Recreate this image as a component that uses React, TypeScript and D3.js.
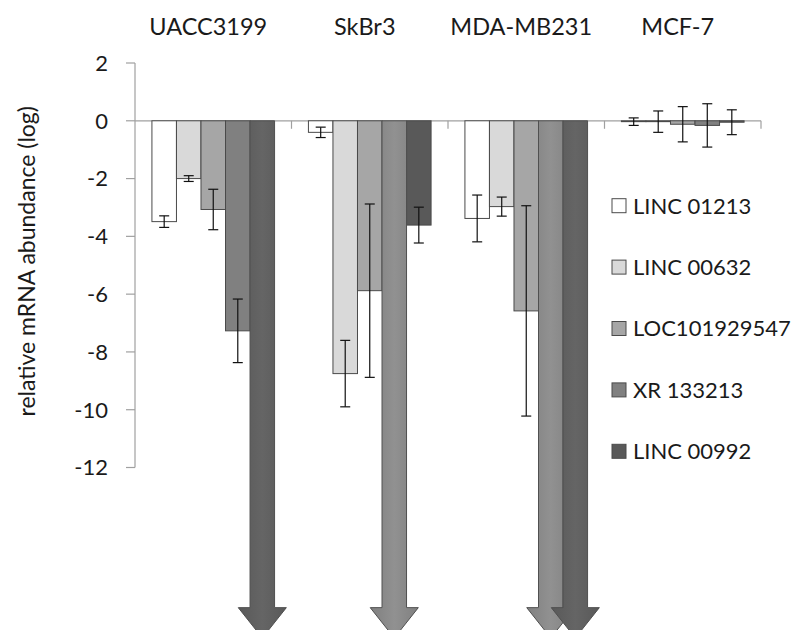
import * as d3 from "d3";

// cell lines and transcripts
const cells = ["UACC3199", "SkBr3", "MDA-MB231", "MCF-7"];
const series = ["LINC 01213", "LINC 00632", "LOC101929547", "XR 133213", "LINC 00992"];
const colors = ["#ffffff", "#d9d9d9", "#a6a6a6", "#808080", "#595959"];

// values per series, one per cell line (null = off scale, drawn as arrow)
const values: (number | null)[][] = [
  [-3.49, -0.4, -3.38, -0.03],
  [-2.0, -8.75, -2.97, -0.03],
  [-3.07, -5.88, -6.58, -0.12],
  [-7.27, null, null, -0.16],
  [null, -3.61, null, -0.05],
];
const errors: (number | null)[][] = [
  [0.2, 0.18, 0.81, 0.13],
  [0.1, 1.15, 0.33, 0.37],
  [0.7, 3.0, 3.64, 0.61],
  [1.1, null, null, 0.75],
  [null, 0.62, null, 0.43],
];
const yTicks = [2, 0, -2, -4, -6, -8, -10, -12];
const ARROW_HEAD = -16.85;
const ARROW_TIP = -17.9;

const W = 801;
const H = 630;
const FONT = "Lato, sans-serif";

export default function App() {
  const x0 = d3.scaleBand<string>().domain(cells).range([135, 761]).padding(0);
  const x1 = d3
    .scaleBand<string>()
    .domain(series)
    .range([0, x0.bandwidth()])
    .paddingInner(0)
    .paddingOuter(0.69);
  const y = d3.scaleLinear().domain([-12, 2]).range([467.5, 63]);
  const y0 = y(0);
  const axisColor = "#a0a0a0";

  const bars: JSX.Element[] = [];
  const arrows: JSX.Element[] = [];
  const errs: JSX.Element[] = [];

  series.forEach((s, si) => {
    cells.forEach((c, ci) => {
      const left = x0(c)! + x1(s)!;
      const bw = x1.bandwidth();
      const cx = left + bw / 2;
      const v = values[si][ci];
      if (v === null) {
        const hs = y(ARROW_HEAD);
        const tip = y(ARROW_TIP);
        const hw = bw * 0.98;
        const p = d3.path();
        p.moveTo(left, y0);
        p.lineTo(left + bw, y0);
        p.lineTo(left + bw, hs);
        p.lineTo(cx + hw, hs);
        p.lineTo(cx, tip);
        p.lineTo(cx - hw, hs);
        p.lineTo(left, hs);
        p.closePath();
        arrows.push(
          <path
            key={`a-${si}-${ci}`}
            d={p.toString()}
            fill={`url(#grad${si})`}
            stroke="#505050"
            strokeWidth={1}
          />,
        );
        return;
      }
      const top = Math.min(y(v), y0);
      const h = Math.abs(y(v) - y0);
      bars.push(
        <rect
          key={`b-${si}-${ci}`}
          x={left}
          y={top}
          width={bw}
          height={h}
          fill={colors[si]}
          stroke="#4a4a4a"
          strokeWidth={1}
        />,
      );
      const e = errors[si][ci];
      if (e !== null) {
        const ya = y(v + e);
        const yb = y(v - e);
        errs.push(
          <g key={`e-${si}-${ci}`} stroke="#111" strokeWidth={1.2}>
            <line x1={cx} x2={cx} y1={ya} y2={yb} />
            <line x1={cx - 5} x2={cx + 5} y1={ya} y2={ya} />
            <line x1={cx - 5} x2={cx + 5} y1={yb} y2={yb} />
          </g>,
        );
      }
    });
  });

  const legendY = d3.scaleBand<string>().domain(series).range([175, 482]);

  return (
    <svg
      width={W}
      height={H}
      style={{position: "absolute", left: 0, top: 0, background: "#fff"}}
      fontFamily={FONT}
    >
      <defs>
        {colors.map((col, i) => {
          const light = d3.color(col)!.brighter(0.35).formatHex();
          return (
            <linearGradient key={i} id={`grad${i}`} x1="0" x2="1" y1="0" y2="0">
              <stop offset="0%" stopColor={col} />
              <stop offset="50%" stopColor={light} />
              <stop offset="100%" stopColor={col} />
            </linearGradient>
          );
        })}
      </defs>

      {/* y axis */}
      <line x1={135} x2={135} y1={y(2)} y2={y(-12)} stroke={axisColor} strokeWidth={1.2} />
      {yTicks.map((t) => (
        <g key={t}>
          <line x1={126} x2={135} y1={y(t)} y2={y(t)} stroke={axisColor} strokeWidth={1.2} />
          <text
            x={108}
            y={y(t)}
            dy="0.36em"
            textAnchor="end"
            fontSize={22}
            fill="#1a1a1a"
          >
            {t}
          </text>
        </g>
      ))}
      <text
        transform={`translate(27,${(y(2) + y(-12)) / 2 - 4}) rotate(-90)`}
        textAnchor="middle"
        dy="0.36em"
        fontSize={23}
        fill="#1a1a1a"
      >
        relative mRNA abundance (log)
      </text>

      {/* x axis */}
      <line x1={135} x2={761} y1={y0} y2={y0} stroke={axisColor} strokeWidth={1.2} />
      {cells.map((c) => (
        <line
          key={c}
          x1={x0(c)! + x0.bandwidth()}
          x2={x0(c)! + x0.bandwidth()}
          y1={y0}
          y2={y0 + 8}
          stroke={axisColor}
          strokeWidth={1.2}
        />
      ))}
      {cells.map((c) => (
        <text
          key={c}
          x={x0(c)! + x0.bandwidth() / 2 - 5}
          y={35}
          textAnchor="middle"
          fontSize={23.5}
          fill="#1a1a1a"
        >
          {c}
        </text>
      ))}

      {bars}
      {arrows}
      {errs}

      {/* legend */}
      {series.map((s, i) => {
        const cy = legendY(s)! + legendY.bandwidth() / 2;
        return (
          <g key={s}>
            <rect
              x={612}
              y={cy - 7}
              width={14}
              height={14}
              fill={colors[i]}
              stroke="#4a4a4a"
              strokeWidth={1}
            />
            <text x={633} y={cy} dy="0.36em" fontSize={22} fill="#1a1a1a">
              {s}
            </text>
          </g>
        );
      })}
    </svg>
  );
}
